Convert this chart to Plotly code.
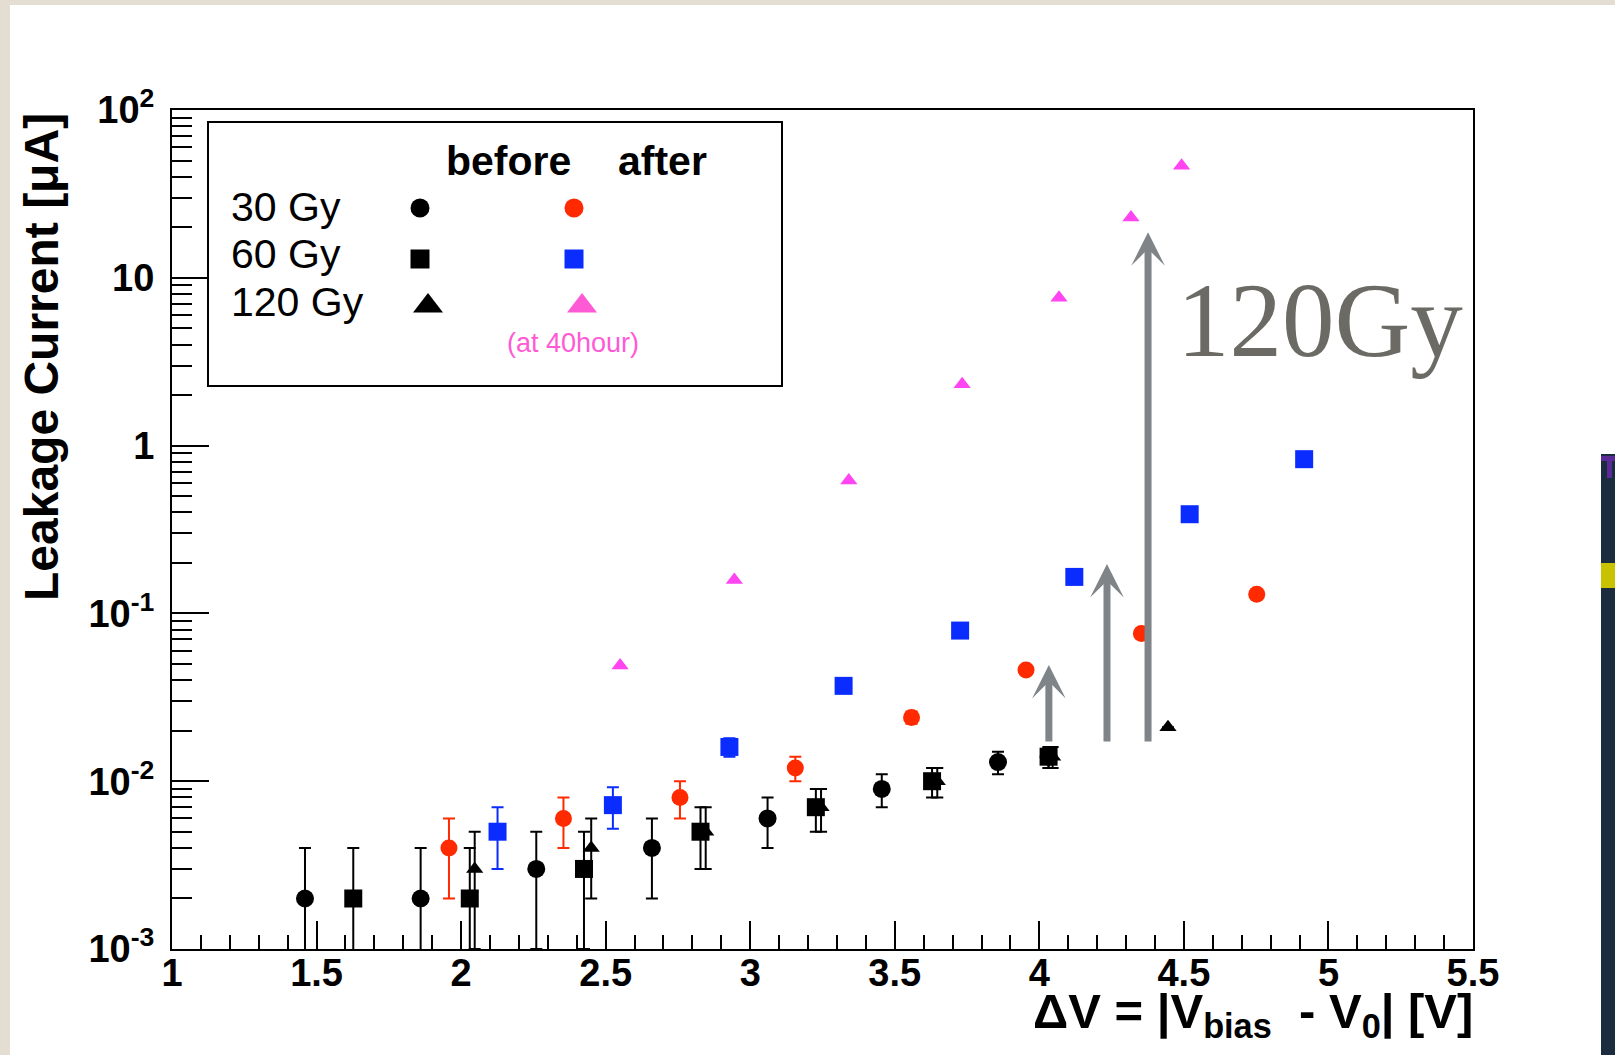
import math
import plotly.graph_objects as go

# ---------------- data ----------------
# 30 Gy, before irradiation (black circles)
x30_before = [1.46, 1.86, 2.26, 2.66, 3.06, 3.455, 3.857, 4.032]
y30_before = [0.002, 0.002, 0.003, 0.004, 0.006, 0.009, 0.013, 0.014]
e30_before = [0.002, 0.002, 0.002, 0.002, 0.002, 0.002, 0.002, 0.002]

# 60 Gy, before (black squares)
x60_before = [1.627, 2.03, 2.425, 2.828, 3.227, 3.629, 4.032]
y60_before = [0.002, 0.002, 0.003, 0.005, 0.007, 0.010, 0.014]
e60_before = [0.002, 0.002, 0.002, 0.002, 0.002, 0.002, 0.002]

# 120 Gy, before (black triangles)
x120_before = [2.047, 2.45, 2.846, 3.245, 3.647, 4.046, 4.445]
y120_before = [0.003, 0.004, 0.005, 0.007, 0.010, 0.014, 0.021]
e120_before = [0.002, 0.002, 0.002, 0.002, 0.002, 0.002, 0.0]

# 30 Gy, after (red circles)
x30_after = [1.958, 2.354, 2.757, 3.156, 3.558, 3.954, 4.353, 4.752]
y30_after = [0.004, 0.006, 0.008, 0.012, 0.024, 0.046, 0.076, 0.13]
e30_after = [0.002, 0.002, 0.002, 0.002, 0.002, 0.002, 0.002, 0.002]

# 60 Gy, after (blue squares)
x60_after = [2.126, 2.525, 2.928, 3.323, 3.726, 4.121, 4.52, 4.916]
y60_after = [0.005, 0.0072, 0.016, 0.037, 0.079, 0.165, 0.39, 0.83]
e60_after = [0.002, 0.002, 0.002, 0.002, 0.002, 0.002, 0.002, 0.002]

# 120 Gy, after at 40 hours (magenta triangles)
x120_after = [2.55, 2.945, 3.341, 3.733, 4.068, 4.317, 4.492]
y120_after = [0.049, 0.158, 0.62, 2.32, 7.6, 22.9, 46.6]

# grey arrows: x, base current, tip current
arrow_x = [4.033, 4.234, 4.376]
arrow_base = [0.0169, 0.0169, 0.0169]
arrow_tip = [0.0493, 0.197, 18.7]

y_ticks = [1e-3, 1e-2, 1e-1, 1, 10, 100]
y_ticktext = ["10<sup>-3</sup>", "10<sup>-2</sup>", "10<sup>-1</sup>", "1", "10", "10<sup>2</sup>"]

# ---------------- layout geometry ----------------
W, H = 1615, 1055
L, R, T, B = 172, 1473, 110, 949


def px(x):
    return (x - L) / (R - L)


def py(y):
    return (B - y) / (B - T)


BLACK = "black"
RED = "#ff2a00"
BLUE = "#0a2cff"
MAGENTA = "#ff44f2"
PINK = "#ff5ad6"
GREY = "#7e8488"
FONT = "Liberation Sans"

fig = go.Figure()


def add_series(x, y, err, symbol, color, size):
    fig.add_trace(go.Scatter(
        x=x, y=y, mode="markers",
        marker=dict(symbol=symbol, color=color, size=size, opacity=1,
                    line=dict(width=0)),
        error_y=dict(type="data", array=err, visible=True, color=color,
                     thickness=2, width=6) if err is not None else None,
        showlegend=False, hoverinfo="skip"))


add_series(x30_before, y30_before, e30_before, "circle", BLACK, 18)
add_series(x60_before, y60_before, e60_before, "square", BLACK, 18)
add_series(x120_before, y120_before, e120_before, "triangle-up", BLACK, 15)
add_series(x30_after, y30_after, e30_after, "circle", RED, 17)
add_series(x60_after, y60_after, e60_after, "square", BLUE, 18)
add_series(x120_after, y120_after, None, "triangle-up", MAGENTA, 15)

# ---------------- hand-made legend (overlay axes in pixel units) ----------------
leg_x = [420, 420, 428, 574, 574, 582]
leg_y = [208, 259, 306, 208, 259, 306]
leg_sym = ["circle", "square", "triangle-up", "circle", "square", "triangle-up"]
leg_col = [BLACK, BLACK, BLACK, RED, BLUE, PINK]
leg_size = [19, 19, 26, 19, 19, 26]
fig.add_trace(go.Scatter(
    x=leg_x, y=leg_y, xaxis="x2", yaxis="y2", mode="markers",
    marker=dict(symbol=leg_sym, color=leg_col, size=leg_size, opacity=1,
                line=dict(width=0)),
    showlegend=False, hoverinfo="skip"))

shapes = []
# legend frame
shapes.append(dict(type="rect", xref="paper", yref="paper",
                   x0=px(208), x1=px(782), y0=py(122), y1=py(386),
                   line=dict(color=BLACK, width=2), fillcolor="white", layer="below"))
# page decorations: beige border strips, dark side panel
BEIGE = "#e4ded2"
shapes.append(dict(type="rect", xref="paper", yref="paper",
                   x0=px(0), x1=px(10), y0=py(0), y1=py(H),
                   line=dict(width=0), fillcolor=BEIGE, layer="above"))
shapes.append(dict(type="rect", xref="paper", yref="paper",
                   x0=px(0), x1=px(W), y0=py(0), y1=py(5),
                   line=dict(width=0), fillcolor=BEIGE, layer="above"))
shapes.append(dict(type="rect", xref="paper", yref="paper",
                   x0=px(1601), x1=px(W), y0=py(454), y1=py(H),
                   line=dict(width=0), fillcolor="#1b2c3f", layer="above"))
shapes.append(dict(type="rect", xref="paper", yref="paper",
                   x0=px(1601), x1=px(W), y0=py(456), y1=py(461),
                   line=dict(width=0), fillcolor="#5a2a96", layer="above"))
shapes.append(dict(type="rect", xref="paper", yref="paper",
                   x0=px(1607), x1=px(1612), y0=py(456), y1=py(478),
                   line=dict(width=0), fillcolor="#5a2a96", layer="above"))
shapes.append(dict(type="rect", xref="paper", yref="paper",
                   x0=px(1601), x1=px(W), y0=py(563), y1=py(588),
                   line=dict(width=0), fillcolor="#c9c200", layer="above"))

annotations = []


def text(s, x, y, size, color=BLACK, bold=False, xanchor="center", yanchor="middle",
         family=FONT, angle=0):
    annotations.append(dict(
        text=s, xref="paper", yref="paper", x=px(x), y=py(y),
        xanchor=xanchor, yanchor=yanchor, showarrow=False, textangle=angle,
        font=dict(family=family, size=size, color=color,
                  weight="bold" if bold else "normal")))


# legend texts
text("before", 508, 161, 41, bold=True)
text("after", 662, 161, 41, bold=True)
text("30 Gy", 229, 207, 41, xanchor="left")
text("60 Gy", 229, 254, 41, xanchor="left")
text("120 Gy", 229, 302, 41, xanchor="left")
text("(at 40hour)", 573, 343, 27, color=PINK)

# big label
text("120Gy", 1320, 320, 105, color="#6b6a64", family="Liberation Serif")

# axis titles
text("Leakage Current [μA]", 41, 111, 48, bold=True, yanchor="top", angle=-90)
text("ΔV = |V<sub>bias</sub>  - V<sub>0</sub>| [V]", R + 2, 982, 49, bold=True,
     xanchor="right", yanchor="top")

# arrows
for xa, yb, yt in zip(arrow_x, arrow_base, arrow_tip):
    annotations.append(dict(
        xref="x", yref="y", axref="x", ayref="y",
        x=xa, y=math.log10(yt), ax=xa, ay=math.log10(yb),
        text="", showarrow=True, arrowhead=3, arrowsize=0.8, arrowwidth=7,
        arrowcolor=GREY, standoff=0, startstandoff=0))

minor_y = [m * 10 ** e for e in range(-3, 2) for m in range(2, 10)]

tickfont = dict(family=FONT, size=38, color=BLACK, weight="bold")

fig.update_layout(
    width=W, height=H,
    margin=dict(l=L, r=W - R, t=T, b=H - B, pad=0),
    paper_bgcolor="white", plot_bgcolor="white",
    showlegend=False,
    shapes=shapes, annotations=annotations,
    xaxis=dict(
        range=[1, 5.5], tickmode="linear", tick0=1, dtick=0.5,
        ticks="inside", ticklen=28, tickwidth=2, tickcolor=BLACK,
        minor=dict(ticks="inside", ticklen=14, tickwidth=2, tickcolor=BLACK,
                   tick0=1, dtick=0.1, showgrid=False),
        showline=True, linecolor=BLACK, linewidth=2, mirror=True,
        showgrid=False, zeroline=False, tickfont=tickfont,
        ticklabelstandoff=-11),
    yaxis=dict(
        type="log", range=[-3, 2], tickmode="array",
        tickvals=y_ticks, ticktext=y_ticktext,
        ticks="inside", ticklen=37, tickwidth=2, tickcolor=BLACK,
        minor=dict(ticks="inside", ticklen=20, tickwidth=2, tickcolor=BLACK,
                   tickvals=minor_y, showgrid=False),
        showline=True, linecolor=BLACK, linewidth=2, mirror=True,
        showgrid=False, zeroline=False, tickfont=tickfont,
        ticklabelstandoff=8),
    xaxis2=dict(overlaying="x", range=[L, R], visible=False, fixedrange=True),
    yaxis2=dict(overlaying="y", range=[B, T], visible=False, fixedrange=True),
)

fig.write_html("out.html")
